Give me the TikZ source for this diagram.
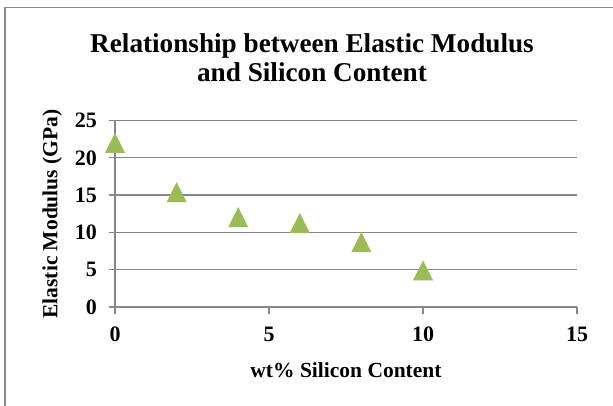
\documentclass[tikz,border=0pt]{standalone}
\usepackage{fontspec}
\setmainfont{Liberation Serif}
\definecolor{gridgray}{HTML}{878787}
\definecolor{framegray}{HTML}{8A8A8A}
\definecolor{mkgreen}{HTML}{9BBB59}
\begin{document}
\begin{tikzpicture}[x=1pt,y=-1pt,
  gridline/.style={gridgray, line width=1.4pt},
  ticklbl/.style={font=\fontsize{22}{22}\selectfont\bfseries, inner sep=0pt},
  axistitle/.style={font=\fontsize{21.5}{21.5}\selectfont\bfseries, inner sep=0pt},
  charttitle/.style={font=\fontsize{27.2}{27.2}\selectfont\bfseries, inner sep=0pt},
  marker/.style={fill=mkgreen}]
\useasboundingbox (0,0) rectangle (613,406);
\fill[white] (0,0) rectangle (613,406);
\draw[framegray, line width=1.6pt] (5,7.5) rectangle (650,440);
% title
\node[charttitle, anchor=base] (t1) at (312,52.3) {Relationship between Elastic Modulus};
\node[charttitle, anchor=base] (t2) at (312,81.7) {and Silicon Content};
% horizontal gridlines and y tick labels
\foreach \v in {0,5,10,15,20,25} {
  \coordinate (gl\v) at (108.5,{307-7.46*\v});
  \coordinate (gr\v) at (577,{307-7.46*\v});
  \draw[gridline] (gl\v) -- (gr\v);
  \node[ticklbl, anchor=east] (ylab\v) at (97,{307-7.46*\v}) {\v};
}
% y axis
\coordinate (ytop) at (115,120.4);
\coordinate (ybot) at (115,313.5);
\draw[gridline] (ytop) -- (ybot);
% x ticks and labels
\foreach \u in {0,5,10,15} {
  \coordinate (xt\u) at ({115+30.8*\u},307);
  \coordinate (xb\u) at ({115+30.8*\u},313.5);
  \draw[gridline] (xt\u) -- (xb\u);
  \node[ticklbl, anchor=center] (xlab\u) at ({115+30.8*\u},334.5) {\u};
}
% axis titles
\node[axistitle, anchor=base] (xtitle) at (346,377) {wt\% Silicon Content};
\node[axistitle, anchor=base, rotate=90] (ytitle) at (57.3,214) {Elastic Modulus (GPa)};
% data markers
\foreach \px/\py in {0/22,2/15.4,4/12.05,6/11.25,8/8.7,10/4.9} {
  \fill[marker] ({115+30.8*\px-10},{307-7.46*\py+10}) -- ++(20,0) -- ++(-10,-20) -- cycle;
}
\end{tikzpicture}
\end{document}
